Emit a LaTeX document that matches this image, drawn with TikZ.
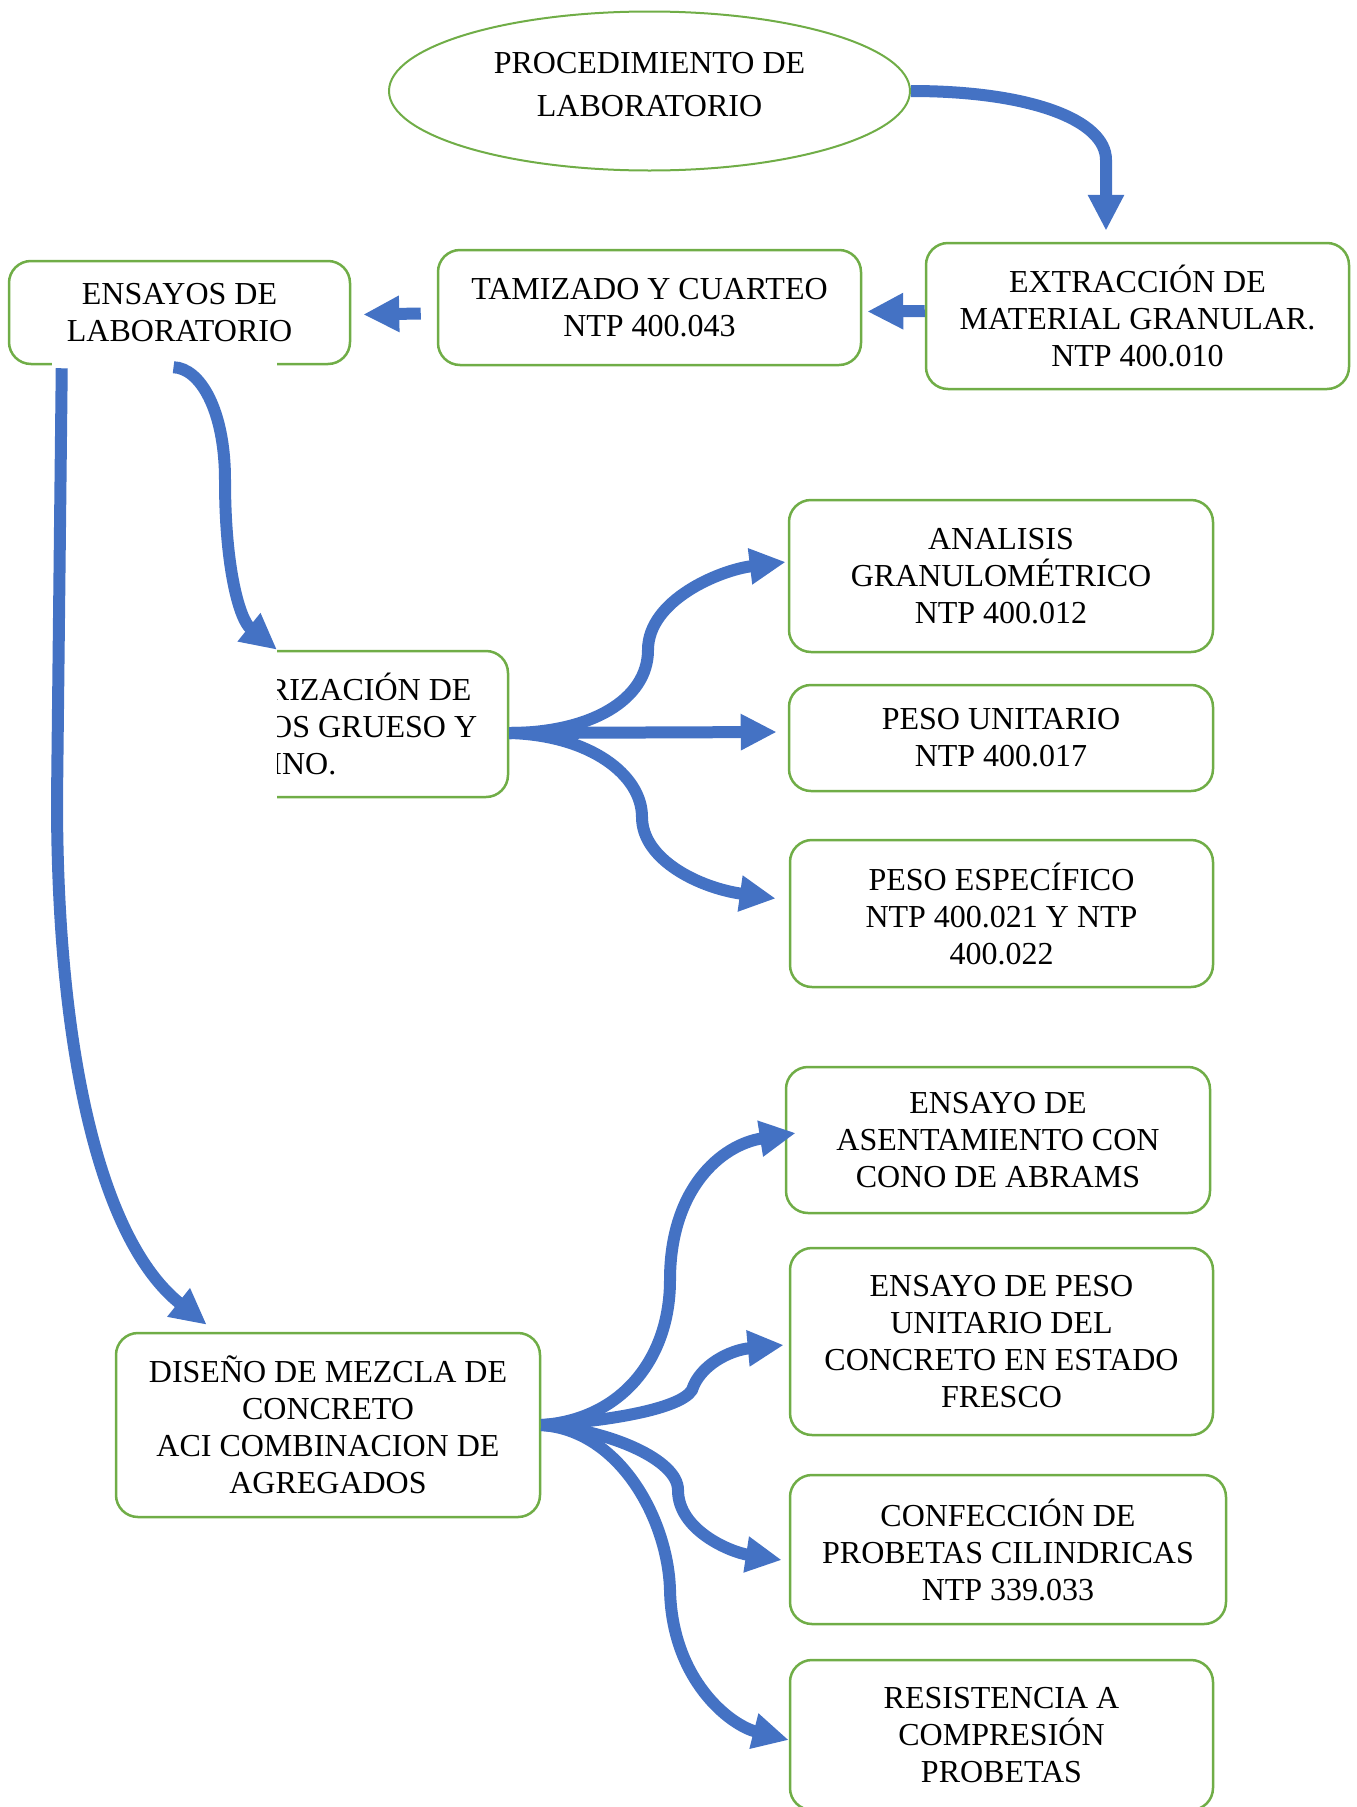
\documentclass[tikz,border=0pt]{standalone}
\usepackage{fontspec}
\setmainfont{Liberation Serif}
\usetikzlibrary{arrows.meta,shapes.geometric}
\definecolor{boxgreen}{HTML}{70AD47}
\definecolor{flowblue}{HTML}{4472C4}

\begin{document}
\begin{tikzpicture}[x=1pt,y=-1pt,font=\fontsize{32}{37}\selectfont,
 box/.style={draw=boxgreen,line width=2.5pt,rounded corners=22pt,align=center,inner sep=0pt},
 oval/.style={ellipse,draw=boxgreen,line width=2pt,align=center,inner sep=0pt,font=\fontsize{32}{43}\selectfont},
 flow/.style={draw=flowblue,line width=12pt,-{Triangle[length=36pt,width=34pt]}}]
\path[use as bounding box] (0,0) rectangle (1357,1807);
\clip (0,0) rectangle (1357,1807);
\node[oval,minimum width=521pt,minimum height=159pt] (proc) at (649.5,91) {PROCEDIMIENTO DE\\LABORATORIO\rule[-13pt]{0pt}{0pt}};
\node[box,minimum width=423pt,minimum height=146pt] (extr) at (1137.5,316) {EXTRACCIÓN DE\\MATERIAL GRANULAR.\\NTP 400.010};
\node[box,minimum width=423pt,minimum height=115pt] (tam) at (649.5,307.5) {TAMIZADO Y CUARTEO\\NTP 400.043};
\node[box,minimum width=341pt,minimum height=103pt] (ens) at (179.5,312.5) {ENSAYOS DE\\LABORATORIO};
\begin{scope}
\clip (277,600) rectangle (600,850);
\node[box,minimum width=426pt,minimum height=146pt] (car) at (295,724) {CARACTERIZACIÓN DE\\AGREGADOS GRUESO Y\\FINO.};
\end{scope}
\node[box,minimum width=424pt,minimum height=152pt] (gran) at (1001,576) {ANALISIS\\GRANULOMÉTRICO\\NTP 400.012};
\node[box,minimum width=424pt,minimum height=106pt] (pu) at (1001,738) {PESO UNITARIO\\NTP 400.017};
\node[box,minimum width=423pt,minimum height=147pt] (pe) at (1001.5,913.5) {PESO ESPECÍFICO\\NTP 400.021 Y NTP\\400.022};
\node[box,minimum width=424pt,minimum height=146pt] (asen) at (998,1140) {ENSAYO DE\\ASENTAMIENTO CON\\CONO DE ABRAMS};
\node[box,minimum width=423pt,minimum height=187pt] (pufr) at (1001.5,1341.5) {ENSAYO DE PESO\\UNITARIO DEL\\CONCRETO EN ESTADO\\FRESCO};
\node[box,minimum width=436pt,minimum height=149pt] (conf) at (1008,1549.5) {CONFECCIÓN DE\\PROBETAS CILINDRICAS\\NTP 339.033};
\node[box,minimum width=423pt,minimum height=150pt] (res) at (1001.5,1735) {RESISTENCIA A\\COMPRESIÓN\\PROBETAS};
\node[box,minimum width=424pt,minimum height=184pt] (dis) at (328,1425) {DISEÑO DE MEZCLA DE\\CONCRETO\\ACI COMBINACION DE\\AGREGADOS};
\draw[white,line width=5pt] (52,364) -- (277,364);
\draw[flow] (proc.east) .. controls (1030,91) and (1106,120) .. (1106,160) -- ([xshift=-31.5pt,yshift=11pt]extr.north);
\draw[flow] ([yshift=5pt]extr.west) -- ([xshift=5pt,yshift=-4pt]tam.east);
\draw[flow] ([xshift=-16pt,yshift=-6pt]tam.west) -- ([xshift=12pt,yshift=-2pt]ens.east);
\draw[flow] ([xshift=-6pt,yshift=-2pt]ens.south) .. controls (200,368) and (225,410) .. (225,480) .. controls (225,570) and (240,620) .. ([xshift=-18pt]car.north);
\draw[flow] ([xshift=54pt,yshift=-3pt]ens.south west) -- (57,800) .. controls (57,1050) and (100,1240) .. ([xshift=92pt,yshift=7pt]dis.north west);
\draw[flow] ([yshift=-9pt]car.east) .. controls (590,733) and (648,700) .. (648,650) .. controls (648,600) and (720,570) .. ([xshift=-2pt,yshift=14pt]gran.west);
\draw[flow] ([yshift=-9pt]car.east) -- ([xshift=-11pt,yshift=6pt]pu.west);
\draw[flow] ([yshift=-9pt]car.east) .. controls (590,735) and (642,775) .. (642,817) .. controls (642,860) and (700,888) .. ([xshift=-13pt,yshift=15pt]pe.west);
\draw[flow] (dis.east) .. controls (620,1420) and (670,1360) .. (670,1280) .. controls (670,1190) and (720,1145) .. ([xshift=11pt,yshift=7pt]asen.west);
\draw[flow] (dis.east) .. controls (600,1422) and (680,1410) .. (692,1390) .. controls (700,1365) and (730,1350) .. ([xshift=-5pt,yshift=-3.5pt]pufr.west);
\draw[flow] (dis.east) .. controls (610,1430) and (678,1460) .. (678,1490) .. controls (678,1530) and (730,1552) .. ([xshift=-7pt,yshift=-10.5pt]conf.west);
\draw[flow] (dis.east) .. controls (620,1430) and (668,1520) .. (670,1590) .. controls (672,1680) and (730,1725) .. ([yshift=-5pt]res.west);
\end{tikzpicture}
\end{document}
